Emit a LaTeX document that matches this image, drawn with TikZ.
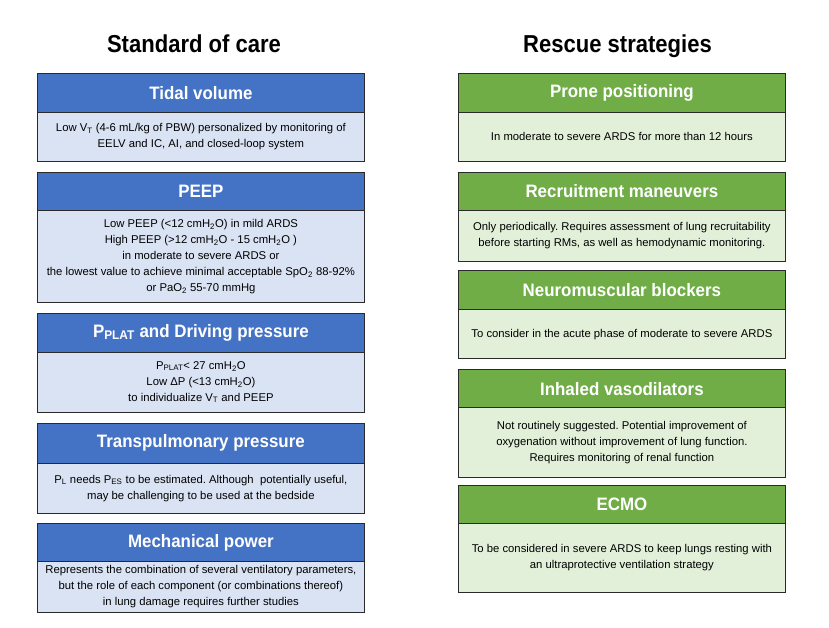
\documentclass[tikz,border=0pt]{standalone}
\usepackage{fontspec}
\setmainfont{Liberation Sans}
\newfontfamily\hdrfont{Liberation Sans}[FakeStretch=0.94]
\newfontfamily\ttlfont{Liberation Sans}[FakeStretch=0.9]
\frenchspacing
\definecolor{hblue}{HTML}{4472C4}
\definecolor{bblue}{HTML}{DAE3F3}
\definecolor{hgreen}{HTML}{70AD47}
\definecolor{bgreen}{HTML}{E2F0D9}
\definecolor{edge}{HTML}{2A2A2A}
\newcommand\mkbox[8]{%
  \node[hdr#6, minimum height={#4-#3}, anchor=north west] (#1h) at (#2,#3) {#7};
  \node[body#6, minimum height={#5-#4}, anchor=north west] (#1b) at (#2,#4) {#8};
}
\tikzset{
  x=1pt, y=-1pt,
  boxbase/.style={draw=edge, line width=1.3pt, minimum width=327.5pt, inner sep=0pt, align=center},
  hdrblue/.style={boxbase, fill=hblue, text=white, font={\hdrfont\bfseries\fontsize{18}{20}\selectfont}},
  hdrgreen/.style={boxbase, fill=hgreen, text=white, font={\hdrfont\bfseries\fontsize{18}{20}\selectfont}},
  bodyblue/.style={boxbase, fill=bblue, text=black, font={\frenchspacing\fontsize{11.3}{16}\selectfont}},
  bodygreen/.style={boxbase, fill=bgreen, text=black, font={\frenchspacing\fontsize{11.3}{16}\selectfont}},
  ttl/.style={anchor=base, font={\ttlfont\bfseries\fontsize{24.5}{28}\selectfont}}
}
\begin{document}
\begin{tikzpicture}
\useasboundingbox (0,0) rectangle (829,627);
\node[ttl] (t1) at (194,52.5) {Standard of care};
\node[ttl] (t2) at (617.5,52.5) {Rescue strategies};
% left column
\mkbox{tv}{36.5}{72.5}{111.5}{160.5}{blue}{Tidal volume}{Low V\textsubscript{T} (4-6 mL/kg of PBW) personalized by monitoring of\\EELV and IC, AI, and closed-loop system}
\mkbox{pe}{36.5}{171.5}{210}{301.5}{blue}{PEEP}{Low PEEP (<12 cmH\textsubscript{2}O) in mild ARDS\\High PEEP (>12 cmH\textsubscript{2}O - 15 cmH\textsubscript{2}O )\\in moderate to severe ARDS or\\the lowest value to achieve minimal acceptable SpO\textsubscript{2} 88-92\%\\or PaO\textsubscript{2} 55-70 mmHg}
\mkbox{pp}{36.5}{312.5}{351.5}{411.5}{blue}{P\textsubscript{PLAT} and Driving pressure}{P\textsubscript{PLAT}< 27 cmH\textsubscript{2}O\\Low ΔP (<13 cmH\textsubscript{2}O)\\to individualize V\textsubscript{T} and PEEP}
\mkbox{tp}{36.5}{422.5}{462.5}{512.5}{blue}{Transpulmonary pressure}{P\textsubscript{L} needs P\textsubscript{ES} to be estimated. Although\ \ potentially useful,\\may be challenging to be used at the bedside}
\mkbox{mp}{36.5}{522.5}{561}{611.5}{blue}{Mechanical power}{Represents the combination of several ventilatory parameters,\\but the role of each component (or combinations thereof)\\in lung damage requires further studies}
% right column
\mkbox{pr}{457.5}{72.5}{111.5}{160.5}{green}{Prone positioning}{In moderate to severe ARDS for more than 12 hours}
\mkbox{rm}{457.5}{171.5}{209.5}{260.5}{green}{Recruitment maneuvers}{Only periodically. Requires assessment of lung recruitability\\before starting RMs, as well as hemodynamic monitoring.}
\mkbox{nm}{457.5}{270}{309}{358}{green}{Neuromuscular blockers}{To consider in the acute phase of moderate to severe ARDS}
\mkbox{iv}{457.5}{369}{407}{476.5}{green}{Inhaled vasodilators}{Not routinely suggested. Potential improvement of\\oxygenation without improvement of lung function.\\Requires monitoring of renal function}
\mkbox{ec}{457.5}{485}{523}{591.5}{green}{ECMO}{To be considered in severe ARDS to keep lungs resting with\\an ultraprotective ventilation strategy}
\end{tikzpicture}
\end{document}
